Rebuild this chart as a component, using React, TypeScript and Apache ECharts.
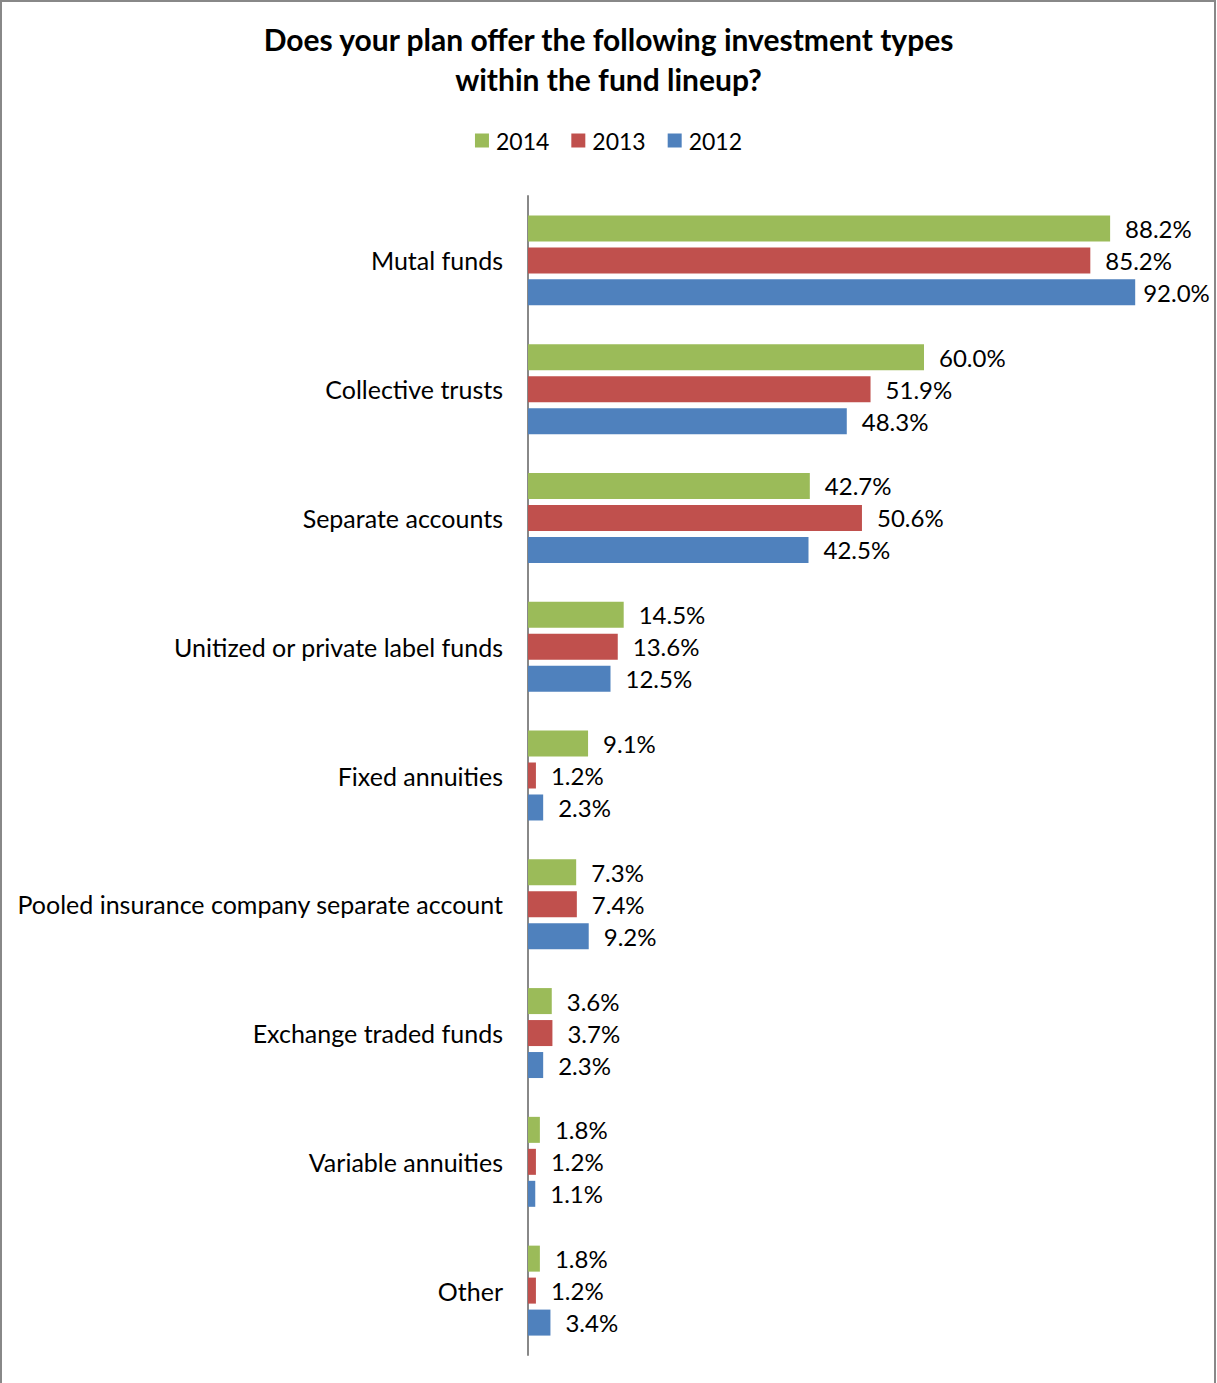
import React, { useEffect, useRef } from "react";
import * as echarts from "echarts";

const categories = [
  "Mutal funds",
  "Collective trusts",
  "Separate accounts",
  "Unitized or private label funds",
  "Fixed annuities",
  "Pooled insurance company separate account",
  "Exchange traded funds",
  "Variable annuities",
  "Other",
];
const values2014 = [88.2, 60.0, 42.7, 14.5, 9.1, 7.3, 3.6, 1.8, 1.8];
const values2013 = [85.2, 51.9, 50.6, 13.6, 1.2, 7.4, 3.7, 1.2, 1.2];
const values2012 = [92.0, 48.3, 42.5, 12.5, 2.3, 9.2, 2.3, 1.1, 3.4];
const seriesNames = ["2014", "2013", "2012"];
const colors = ["#9BBB59", "#C0504D", "#4F81BD"];

const FONT = "Lato";

export default function App() {
  const ref = useRef<HTMLDivElement>(null);
  useEffect(() => {
    document.body.style.margin = "0";
    const chart = echarts.init(ref.current!, null, { renderer: "svg" });
    const data = [values2014, values2013, values2012];
    chart.setOption({
      animation: false,
      backgroundColor: "#fff",
      textStyle: { fontFamily: FONT },
      title: {
        text: "Does your plan offer the following investment types\nwithin the fund lineup?",
        left: "center",
        top: 14,
        textStyle: { fontFamily: FONT, fontSize: 30, fontWeight: "bold", color: "#000", lineHeight: 40 },
      },
      legend: {
        top: 124,
        left: "center",
        itemWidth: 14,
        itemHeight: 14,
        itemGap: 22,
        icon: "rect",
        textStyle: { fontFamily: FONT, fontSize: 23, color: "#000", padding: [0, 0, 0, 2] },
        data: seriesNames,
      },
      graphic: [
        {
          type: "rect",
          shape: { x: 1, y: 1, width: 1214, height: 1400 },
          style: { fill: "none", stroke: "#888", lineWidth: 2 },
          silent: true,
        },
      ],
      grid: { left: 528, right: 29, top: 196, bottom: 28, containLabel: false },
      xAxis: {
        type: "value",
        min: 0,
        max: 100,
        show: false,
      },
      yAxis: {
        type: "category",
        data: categories,
        inverse: true,
        axisLine: { show: true, lineStyle: { color: "#888", width: 2 } },
        axisTick: { show: false },
        axisLabel: { fontFamily: FONT, fontSize: 25, color: "#000", margin: 25 },
      },
      series: seriesNames.map((name, i) => ({
        name,
        type: "bar",
        data: data[i].map((v, j) =>
          i === 2 && j === 0 ? { value: v, label: { distance: 8 } } : v
        ),
        barWidth: 26,
        barGap: "23%",
        itemStyle: { color: colors[i] },
        label: {
          show: true,
          position: "right",
          distance: 15,
          fontFamily: FONT,
          fontSize: 24,
          color: "#000",
          formatter: (p: any) => Number(p.value).toFixed(1) + "%",
        },
      })),
    });
    return () => chart.dispose();
  }, []);
  return <div ref={ref} style={{ width: 1217, height: 1383 }} />;
}
